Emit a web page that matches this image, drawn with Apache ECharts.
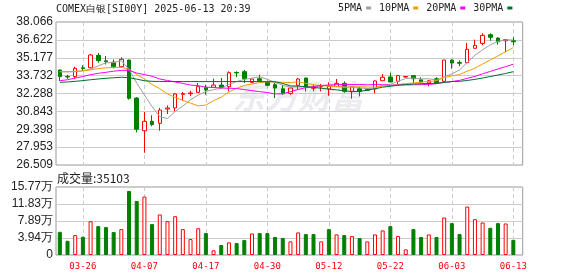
<!DOCTYPE html>
<html><head><meta charset="utf-8">
<script src="https://cdn.jsdelivr.net/npm/echarts@6/dist/echarts.min.js"></script>
<style>html,body{margin:0;padding:0;background:#fff}#c{width:578px;height:276px}</style>
</head><body><div id="c"></div>
<script>
const dates = ['03-21','03-24','03-25','03-26','03-27','03-28','03-31','04-01','04-02','04-03','04-04','04-07','04-08','04-09','04-10','04-11','04-14','04-15','04-16','04-17','04-21','04-22','04-23','04-24','04-25','04-28','04-29','04-30','05-01','05-02','05-05','05-06','05-07','05-08','05-09','05-12','05-13','05-14','05-15','05-16','05-19','05-20','05-21','05-22','05-23','05-26','05-27','05-28','05-29','05-30','06-02','06-03','06-04','06-05','06-06','06-09','06-10','06-11','06-12','06-13'];
const opens  = [34.19,33.66,33.65,34.36,34.37,35.37,34.93,34.81,34.45,34.99,31.92,29.28,30.04,29.88,31.03,31.12,32.22,32.27,32.38,32.76,32.79,32.97,32.84,33.99,34.05,33.19,33.48,33.19,33.00,32.67,32.30,32.95,33.54,32.71,32.82,32.65,32.84,33.11,32.46,32.67,32.62,32.65,33.32,33.62,33.27,33.62,33.73,33.40,33.14,33.48,33.27,34.99,34.79,34.78,35.94,36.34,37.04,36.77,36.55,36.55];
const closes = [33.65,33.62,34.32,34.30,35.40,34.94,34.87,34.44,35.05,31.90,29.40,30.04,29.77,30.95,31.12,32.25,32.27,32.33,32.84,32.57,32.97,32.79,33.97,33.95,33.48,33.46,33.32,32.95,32.73,32.27,32.73,33.46,32.79,32.76,32.86,32.87,33.11,32.46,32.84,32.46,32.55,33.30,33.60,33.22,33.73,33.66,33.48,33.22,33.32,33.14,34.99,34.75,34.73,35.86,36.18,36.99,36.83,36.47,36.64,36.47];
const lows   = [33.30,33.47,33.48,34.13,34.32,34.78,34.63,34.31,34.35,31.79,29.15,27.50,29.64,29.28,30.63,30.85,31.71,32.09,32.36,32.19,32.78,32.73,32.46,33.60,33.14,33.14,33.22,32.87,31.92,32.19,32.19,32.65,32.46,32.46,32.46,32.11,32.82,32.35,31.87,32.06,32.50,32.30,33.30,33.20,33.05,33.58,33.14,33.19,32.87,33.10,33.19,34.29,34.49,34.73,35.92,36.18,36.55,36.23,35.64,36.18];
const highs  = [34.22,33.80,34.45,34.57,35.48,35.56,35.32,35.03,35.21,35.02,32.00,30.79,30.53,31.12,31.33,32.33,32.41,32.51,33.14,33.00,33.48,33.54,34.08,34.08,34.19,33.50,33.81,33.32,33.14,33.00,32.75,33.54,33.56,33.00,33.05,33.19,33.46,33.27,32.86,32.84,32.70,33.35,33.86,33.97,33.78,33.70,33.78,33.60,33.35,33.60,35.00,35.05,34.97,36.37,36.64,37.15,37.15,36.83,36.66,36.83];
const volumes = [5.38,3.30,4.62,4.23,7.85,6.70,6.47,5.31,6.00,14.85,12.54,13.55,7.16,9.40,7.85,9.00,6.00,3.69,6.20,5.08,1.08,2.31,2.93,2.77,3.46,5.00,5.08,5.08,4.16,3.93,3.16,5.23,4.85,4.85,3.16,6.00,4.77,4.62,4.39,3.93,3.16,4.77,5.70,6.70,4.39,1.31,6.00,4.16,4.77,4.16,8.70,7.39,4.85,11.24,8.31,7.54,6.31,7.39,7.31,3.5103];
const volumeUp = [0,0,1,0,1,0,0,0,1,0,0,1,0,1,1,1,1,1,1,0,1,0,1,0,0,1,0,0,0,0,1,1,0,0,1,0,1,0,1,0,1,1,1,0,1,1,0,0,1,0,1,0,0,1,1,1,0,0,1,0];
const ma5  = [34.05,34.03,34.05,34.12,34.26,34.52,34.77,34.79,34.94,34.24,33.13,32.17,31.23,30.41,30.26,30.83,31.27,31.78,32.16,32.45,32.60,32.70,33.03,33.25,33.43,33.53,33.64,33.43,33.19,32.95,32.80,32.83,32.80,32.79,32.91,32.94,32.87,32.80,32.83,32.75,32.68,32.72,32.95,33.03,33.28,33.50,33.54,33.46,33.48,33.36,33.63,33.88,34.19,34.80,35.38,35.82,36.22,36.50,36.62,36.62];
const ma10 = [34.05,34.06,34.08,34.12,34.20,34.30,34.36,34.40,34.40,34.25,33.82,33.47,33.01,32.68,32.25,31.98,31.72,31.51,31.29,31.35,31.71,31.99,32.41,32.71,32.94,33.06,33.17,33.23,33.22,33.19,33.17,33.23,33.11,32.99,32.93,32.87,32.85,32.80,32.81,32.83,32.81,32.80,32.88,32.93,33.01,33.09,33.13,33.21,33.25,33.32,33.57,33.71,33.82,34.09,34.33,34.67,35.00,35.33,35.66,35.99];
const ma20 = [33.32,33.40,33.54,33.66,33.81,33.92,34.00,34.09,34.16,34.16,33.94,33.82,33.68,33.46,33.34,33.22,33.10,32.97,32.92,32.80,32.77,32.73,32.71,32.69,32.60,32.52,32.44,32.37,32.25,32.27,32.44,32.61,32.76,32.85,32.94,32.97,33.01,33.01,33.01,33.01,32.99,33.01,33.00,32.96,32.97,32.98,32.99,33.00,33.03,33.08,33.19,33.25,33.35,33.51,33.67,33.88,34.07,34.27,34.46,34.66];
const ma30 = [33.19,33.22,33.27,33.33,33.40,33.46,33.52,33.56,33.60,33.56,33.45,33.32,33.27,33.26,33.26,33.26,33.25,33.25,33.25,33.25,33.25,33.25,33.25,33.25,33.25,33.25,33.25,33.24,33.24,33.10,32.90,32.89,32.84,32.79,32.71,32.64,32.58,32.51,32.44,32.46,32.56,32.67,32.80,32.87,32.96,33.01,33.05,33.08,33.09,33.11,33.18,33.25,33.27,33.34,33.43,33.54,33.66,33.78,33.91,34.05];
const priceTicks = ['26.509','27.953','29.398','30.843','32.288','33.732','35.177','36.622','38.066'];
const volumeTicks = ['0','3.94万','7.89万','11.83万','15.77万'];
const titleText = 'COMEX白银[SI00Y] 2025-06-13 20:39';
const volumeTitle = '成交量:35103';
const maNames = ['5PMA','10PMA','20PMA','30PMA'];
const watermark = '东方财富';

const P_MIN = 26.509, P_MAX = 38.066, P_INT = 1.444625;
const V_MIN = 0, V_MAX = 15.77, V_INT = 3.9425;
const RED = '#ff0000', GREEN = '#008000';
const maColors = ['#a0a0a0', '#f0a000', '#ff00ff', '#006e32'];
const labelIdx = (i) => i % 8 === 3;

const chart = echarts.init(document.getElementById('c'), null, {renderer: 'canvas'});
const gridTop = 22, gridH = 143, volTop = 187, volH = 68;
const L = 56, dataRight = 60.8, boxRight = 55.3;

const candleData = dates.map((d, i) => [opens[i], closes[i], lows[i], highs[i]]);
const vRed = volumes.map((v, i) => volumeUp[i] ? v : '-');
const vGreen = volumes.map((v, i) => volumeUp[i] ? '-' : v);

const catAxis = (gi, showLabel) => ({
  type: 'category', gridIndex: gi, data: dates, boundaryGap: true,
  axisLine: {show: false}, axisTick: {show: false},
  axisLabel: {show: showLabel, interval: (i) => labelIdx(i), color: RED,
    fontFamily: 'DejaVu Sans Mono', fontSize: 9, margin: 7},
  splitLine: {show: true, interval: (i) => labelIdx(i), alignWithLabel: true,
    lineStyle: {color: '#cccccc', type: [4, 3], width: 1}}
});
const hiddenVal = (gi) => ({type: 'value', gridIndex: gi, show: false, min: 0, max: 1});

const option = {
  animation: false,
  backgroundColor: '#ffffff',
  title: [
    {text: titleText, left: 56, top: 3, padding: 0,
     textStyle: {fontFamily: 'DejaVu Sans Mono', fontSize: 10, fontWeight: 'normal', color: '#222', lineHeight: 12}},
    {text: volumeTitle, left: 57, top: 171, padding: 0,
     textStyle: {fontFamily: 'Noto Sans CJK SC', fontSize: 12, fontWeight: 'normal', color: '#222', lineHeight: 14}}
  ],
  legend: {
    data: maNames, left: 338, top: 3, padding: 0, icon: 'rect', itemWidth: 5, itemHeight: 3,
    align: 'right', itemGap: 8,
    textStyle: {fontFamily: 'DejaVu Sans Mono', fontSize: 10, color: '#222', padding: [0, -1, 0, 0]}
  },
  graphic: [{
    type: 'text', left: 232, top: 80, z: -1, silent: true,
    style: {text: watermark, fill: '#ebebf0', font: 'bold italic 33px "Noto Sans CJK SC"'}
  }],
  grid: [
    {left: L, right: dataRight, top: gridTop, height: gridH, show: false},
    {left: L, right: boxRight, top: gridTop, height: gridH, show: true, borderColor: '#999', borderWidth: 1, backgroundColor: 'transparent'},
    {left: L, right: dataRight, top: volTop, height: volH, show: false},
    {left: L, right: boxRight, top: volTop, height: volH, show: true, borderColor: '#999', borderWidth: 1, backgroundColor: 'transparent'}
  ],
  xAxis: [catAxis(0, false), hiddenVal(1), catAxis(2, true), hiddenVal(3)],
  yAxis: [
    {type: 'value', gridIndex: 0, show: false, min: P_MIN, max: P_MAX, interval: P_INT},
    {type: 'value', gridIndex: 1, min: P_MIN, max: P_MAX, interval: P_INT,
     axisLine: {show: false}, axisTick: {show: false},
     axisLabel: {margin: 3, color: '#222', fontFamily: 'Liberation Sans', fontSize: 12,
       formatter: (v) => priceTicks[Math.round((v - P_MIN) / P_INT)]},
     splitLine: {show: true, lineStyle: {color: '#cccccc', width: 1}}},
    {type: 'value', gridIndex: 2, show: false, min: V_MIN, max: V_MAX, interval: V_INT},
    {type: 'value', gridIndex: 3, min: V_MIN, max: V_MAX, interval: V_INT,
     axisLine: {show: false}, axisTick: {show: false},
     axisLabel: {margin: 3, color: '#222', fontFamily: 'Liberation Sans', fontSize: 12,
       formatter: (v) => volumeTicks[Math.round((v - V_MIN) / V_INT)]},
     splitLine: {show: true, lineStyle: {color: '#cccccc', width: 1}}}
  ],
  series: [
    {type: 'candlestick', xAxisIndex: 0, yAxisIndex: 0, data: candleData, barWidth: 4, silent: true, z: 2,
     itemStyle: {color: '#ffffff', color0: GREEN, borderColor: RED, borderColor0: GREEN, borderWidth: 1}},
    ...maNames.map((n, k) => ({
      name: n, type: 'line', xAxisIndex: 0, yAxisIndex: 0, data: [ma5, ma10, ma20, ma30][k],
      showSymbol: false, symbol: 'none', silent: true, z: 3, color: maColors[k],
      lineStyle: {width: 1, color: maColors[k]}
    })),
    {type: 'bar', xAxisIndex: 2, yAxisIndex: 2, data: vRed, barWidth: 4, barGap: '-100%', silent: true,
     itemStyle: {color: '#ffffff', borderColor: RED, borderWidth: 1}},
    {type: 'bar', xAxisIndex: 2, yAxisIndex: 2, data: vGreen, barWidth: 4, barGap: '-100%', silent: true,
     itemStyle: {color: GREEN, borderColor: GREEN, borderWidth: 1}}
  ]
};
chart.setOption(option);
</script></body></html>
